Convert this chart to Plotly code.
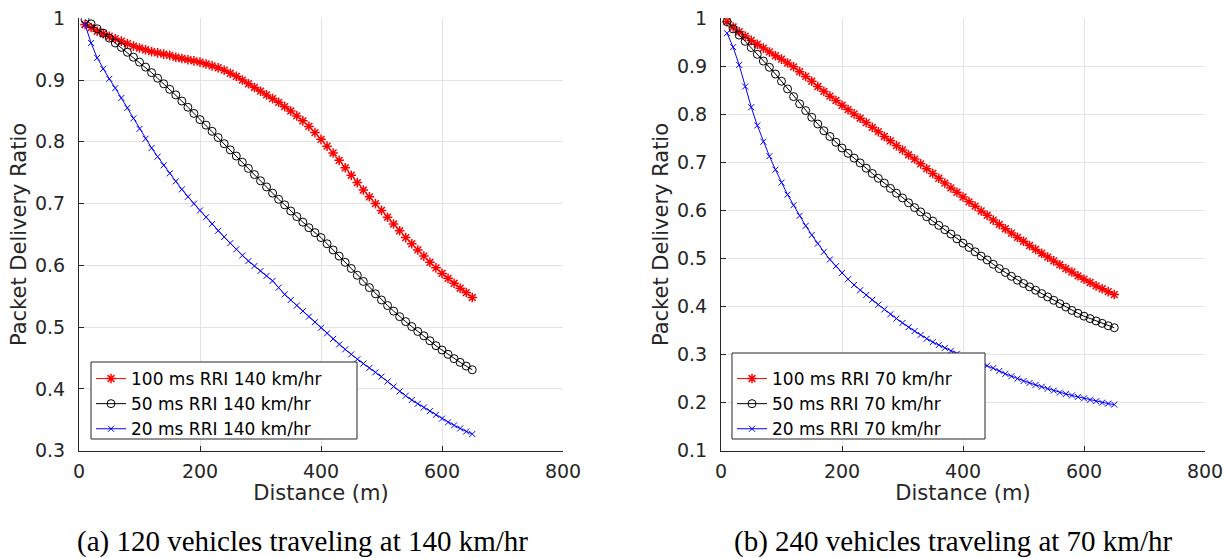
import plotly.graph_objects as go

# ---------------- data ----------------
distance = [10, 20, 30, 40, 50, 60, 70, 80, 90, 100,
            110, 120, 130, 140, 150, 160, 170, 180, 190, 200,
            210, 220, 230, 240, 250, 260, 270, 280, 290, 300,
            310, 320, 330, 340, 350, 360, 370, 380, 390, 400,
            410, 420, 430, 440, 450, 460, 470, 480, 490, 500,
            510, 520, 530, 540, 550, 560, 570, 580, 590, 600,
            610, 620, 630, 640, 650]

# (a) 120 vehicles, 140 km/hr
a_rri100 = [0.990, 0.985, 0.979, 0.975, 0.971, 0.967, 0.963, 0.959, 0.955, 0.952,
            0.949, 0.946, 0.944, 0.942, 0.940, 0.937, 0.935, 0.933, 0.931, 0.929,
            0.926, 0.923, 0.920, 0.916, 0.911, 0.906, 0.900, 0.894, 0.888, 0.882,
            0.876, 0.870, 0.864, 0.857, 0.850, 0.842, 0.834, 0.825, 0.815, 0.804,
            0.793, 0.782, 0.770, 0.758, 0.746, 0.734, 0.722, 0.711, 0.700, 0.689,
            0.678, 0.667, 0.656, 0.645, 0.635, 0.625, 0.615, 0.605, 0.596, 0.587,
            0.579, 0.571, 0.563, 0.556, 0.548]
a_rri50 = [0.998, 0.991, 0.983, 0.976, 0.968, 0.960, 0.953, 0.945, 0.937, 0.929,
           0.921, 0.912, 0.903, 0.894, 0.885, 0.876, 0.866, 0.856, 0.846, 0.836,
           0.827, 0.817, 0.807, 0.797, 0.787, 0.777, 0.767, 0.757, 0.747, 0.737,
           0.727, 0.717, 0.707, 0.698, 0.688, 0.679, 0.670, 0.661, 0.653, 0.645,
           0.635, 0.625, 0.615, 0.605, 0.595, 0.584, 0.574, 0.564, 0.554, 0.544,
           0.535, 0.526, 0.517, 0.509, 0.501, 0.493, 0.486, 0.478, 0.470, 0.463,
           0.456, 0.449, 0.443, 0.437, 0.431]
a_rri20 = [0.990, 0.960, 0.936, 0.918, 0.902, 0.887, 0.871, 0.855, 0.838, 0.821,
           0.805, 0.790, 0.776, 0.762, 0.749, 0.736, 0.723, 0.711, 0.700, 0.689,
           0.678, 0.667, 0.656, 0.646, 0.636, 0.626, 0.616, 0.607, 0.599, 0.591,
           0.583, 0.575, 0.564, 0.553, 0.544, 0.535, 0.526, 0.517, 0.508, 0.499,
           0.490, 0.481, 0.472, 0.464, 0.456, 0.448, 0.441, 0.434, 0.427, 0.420,
           0.412, 0.404, 0.396, 0.389, 0.382, 0.376, 0.370, 0.364, 0.358, 0.352,
           0.346, 0.341, 0.336, 0.331, 0.327]

# (b) 240 vehicles, 70 km/hr
b_rri100 = [0.993, 0.982, 0.972, 0.963, 0.954, 0.946, 0.938, 0.930, 0.922, 0.915,
            0.907, 0.899, 0.889, 0.879, 0.869, 0.858, 0.848, 0.838, 0.829, 0.819,
            0.810, 0.801, 0.792, 0.783, 0.773, 0.764, 0.754, 0.745, 0.735, 0.726,
            0.716, 0.707, 0.697, 0.687, 0.677, 0.667, 0.657, 0.647, 0.638, 0.628,
            0.618, 0.609, 0.599, 0.590, 0.580, 0.571, 0.562, 0.553, 0.544, 0.536,
            0.527, 0.519, 0.511, 0.503, 0.495, 0.487, 0.479, 0.472, 0.464, 0.457,
            0.450, 0.443, 0.437, 0.431, 0.425]
b_rri50 = [0.993, 0.978, 0.965, 0.952, 0.939, 0.925, 0.911, 0.898, 0.884, 0.869,
           0.853, 0.837, 0.822, 0.808, 0.794, 0.780, 0.766, 0.754, 0.742, 0.730,
           0.719, 0.709, 0.699, 0.688, 0.677, 0.667, 0.657, 0.646, 0.636, 0.626,
           0.616, 0.606, 0.597, 0.587, 0.578, 0.569, 0.560, 0.551, 0.541, 0.532,
           0.523, 0.514, 0.505, 0.497, 0.488, 0.479, 0.471, 0.463, 0.455, 0.448,
           0.441, 0.434, 0.427, 0.420, 0.413, 0.406, 0.399, 0.392, 0.386, 0.380,
           0.375, 0.370, 0.365, 0.360, 0.356]
b_rri20 = [0.969, 0.940, 0.903, 0.858, 0.815, 0.777, 0.743, 0.713, 0.685, 0.658,
           0.633, 0.611, 0.589, 0.568, 0.549, 0.531, 0.514, 0.498, 0.484, 0.470,
           0.457, 0.445, 0.434, 0.424, 0.414, 0.404, 0.394, 0.384, 0.375, 0.366,
           0.357, 0.349, 0.341, 0.333, 0.326, 0.320, 0.314, 0.308, 0.302, 0.297,
           0.292, 0.287, 0.282, 0.277, 0.272, 0.266, 0.260, 0.255, 0.250, 0.245,
           0.241, 0.237, 0.233, 0.229, 0.225, 0.221, 0.218, 0.215, 0.212, 0.209,
           0.206, 0.203, 0.200, 0.198, 0.196]

names_a = ["100 ms RRI 140 km/hr", "50 ms RRI 140 km/hr", "20 ms RRI 140 km/hr"]
names_b = ["100 ms RRI 70 km/hr", "50 ms RRI 70 km/hr", "20 ms RRI 70 km/hr"]
captions = ["(a) 120 vehicles traveling at 140 km/hr", "(b) 240 vehicles traveling at 70 km/hr"]
x_ticks = [0, 200, 400, 600, 800]
y_ticks_a = [0.3, 0.4, 0.5, 0.6, 0.7, 0.8, 0.9, 1.0]
y_ticks_b = [0.1, 0.2, 0.3, 0.4, 0.5, 0.6, 0.7, 0.8, 0.9, 1.0]

# ---------------- styling ----------------
W, H = 1225, 558
SANS = "DejaVu Sans, Liberation Sans, Arial, sans-serif"
SERIF = "Liberation Serif, Times New Roman, serif"
AX = "#262626"
GRID = "#e3e3e3"

styles = [
    dict(color="#ff0000", symbol="asterisk-open", size=8, lw=1.5),
    dict(color="#000000", symbol="circle-open", size=8, lw=1),
    dict(color="#0000ff", symbol="x-thin-open", size=6, lw=1),
]

fig = go.Figure()

def add_series(ys, names, xa, ya, legend):
    for y, name, st in zip(ys, names, styles):
        fig.add_trace(go.Scatter(
            x=distance, y=y, name=name, mode="lines+markers",
            xaxis=xa, yaxis=ya, legend=legend,
            line=dict(color=st["color"], width=1),
            marker=dict(symbol=st["symbol"], size=st["size"],
                        color=st["color"], line=dict(color=st["color"], width=st["lw"])),
        ))

add_series([a_rri100, a_rri50, a_rri20], names_a, "x", "y", "legend")
add_series([b_rri100, b_rri50, b_rri20], names_b, "x2", "y2", "legend2")

def fmt(v):
    return "1" if abs(v - 1) < 1e-9 else f"{v:.1f}"

y0 = (H - 450.7) / H
y1 = (H - 18.3) / H
dom_a = [79 / W, 563 / W]
dom_b = [721 / W, 1205 / W]

xcommon = dict(range=[0, 800], tickvals=x_ticks, ticks="inside", ticklen=5,
               tickcolor=AX, showline=True, linecolor=AX, linewidth=1,
               showgrid=True, gridcolor=GRID, gridwidth=1, zeroline=False,
               automargin=False,
               tickfont=dict(family=SANS, size=19, color=AX),
               ticklabelstandoff=3,
               title=dict(text="Distance (m)", font=dict(family=SANS, size=21, color=AX), standoff=0))

def ycommon(ticks, lo):
    return dict(range=[lo, 1], tickvals=ticks, ticktext=[fmt(v) for v in ticks],
                ticks="inside", ticklen=5, tickcolor=AX, showline=True, linecolor=AX,
                linewidth=1, showgrid=True, gridcolor=GRID, gridwidth=1, zeroline=False,
                automargin=False,
                tickfont=dict(family=SANS, size=19, color=AX), ticklabelstandoff=9,
                title=dict(text="Packet Delivery Ratio", font=dict(family=SANS, size=21, color=AX), standoff=2))

legend_common = dict(xanchor="left", yanchor="bottom", bgcolor="rgba(0,0,0,0)",
                     borderwidth=0, tracegroupgap=0,
                     font=dict(family=SANS, size=17, color="#000000"))

# legend frames (pixel boxes converted to paper coordinates)
def frame(x0, x1, ytop, ybot):
    return dict(type="rect", xref="paper", yref="paper", layer="above",
                x0=x0 / W, x1=x1 / W, y0=(H - ybot) / H, y1=(H - ytop) / H,
                fillcolor="white", line=dict(color=AX, width=1))

fig.update_layout(
    width=W, height=H, paper_bgcolor="white", plot_bgcolor="white",
    margin=dict(l=0, r=0, t=0, b=0, autoexpand=False),
    xaxis=dict(domain=dom_a, anchor="y", **xcommon),
    yaxis=dict(domain=[y0, y1], anchor="x", **ycommon(y_ticks_a, 0.3)),
    xaxis2=dict(domain=dom_b, anchor="y2", **xcommon),
    yaxis2=dict(domain=[y0, y1], anchor="x2", **ycommon(y_ticks_b, 0.1)),
    legend=dict(x=91 / W, y=(H - 447) / H, **legend_common),
    legend2=dict(x=732 / W, y=(H - 447) / H, **legend_common),
    showlegend=True,
    shapes=[frame(91, 357, 362, 439), frame(732, 985, 353, 439)],
    annotations=[
        dict(text=captions[0], x=302 / W, y=(H - 541) / H, xref="paper", yref="paper",
             showarrow=False, xanchor="center", yanchor="middle",
             font=dict(family=SERIF, size=29, color="#000000")),
        dict(text=captions[1], x=953 / W, y=(H - 541) / H, xref="paper", yref="paper",
             showarrow=False, xanchor="center", yanchor="middle",
             font=dict(family=SERIF, size=29, color="#000000")),
    ],
)

fig.write_html("out.html")
